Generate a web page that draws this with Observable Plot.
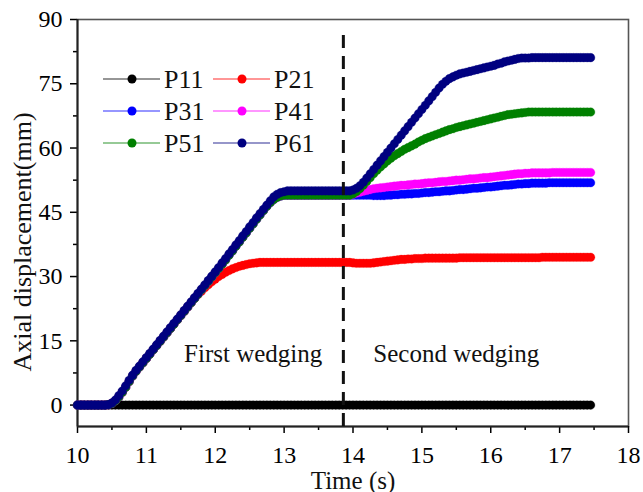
<!DOCTYPE html>
<html>
<head>
<meta charset="utf-8">
<script src="https://cdn.jsdelivr.net/npm/d3@7"></script>
<script src="https://cdn.jsdelivr.net/npm/@observablehq/plot@0.6"></script>
<style>
  html, body { margin: 0; padding: 0; background: #fff; }
  #chart { position: relative; width: 643px; height: 492px; }
  #chart svg { position: absolute; left: 0; top: 0; }
  #chart text { font-family: 'Liberation Serif', 'Times New Roman', serif; }
</style>
</head>
<body>
<div id="chart"></div>
<script>
// ---------- data ----------
const seriesNames = ["P11", "P21", "P31", "P41", "P51", "P61"];
const seriesColors = ["#000000", "#ff0000", "#0000ff", "#ff00ff", "#008000", "#000080"];
const xTicks = [10, 11, 12, 13, 14, 15, 16, 17, 18];
const xMinorTicks = [10.5, 11.5, 12.5, 13.5, 14.5, 15.5, 16.5, 17.5];
const yTicks = [0, 15, 30, 45, 60, 75, 90];
const yMinorTicks = [7.5, 22.5, 37.5, 52.5, 67.5, 82.5];
const wedgeTime = 13.86;
const phaseLabels = ["First wedging", "Second wedging"];

// sampling grid: one sample every 0.05 s from 10.00 s to 17.45 s (150 samples)
const time = d3.range(150).map(i => Math.round((10 + i * 0.05) * 100) / 100);

const P11 = [
0,0,0,0,0,0,0,0,0,0, 0,0,0,0,0,0,0,0,0,0, 0,0,0,0,0,0,0,0,0,0,
0,0,0,0,0,0,0,0,0,0, 0,0,0,0,0,0,0,0,0,0, 0,0,0,0,0,0,0,0,0,0,
0,0,0,0,0,0,0,0,0,0, 0,0,0,0,0,0,0,0,0,0, 0,0,0,0,0,0,0,0,0,0,
0,0,0,0,0,0,0,0,0,0, 0,0,0,0,0,0,0,0,0,0, 0,0,0,0,0,0,0,0,0,0,
0,0,0,0,0,0,0,0,0,0, 0,0,0,0,0,0,0,0,0,0, 0,0,0,0,0,0,0,0,0,0];

const P21 = [
0,0,0,0,0,0,0,0,0,0.1,
0.4,1.0,1.9,3.0,4.2,5.5,6.8,7.9,8.9,9.9,
10.9,11.9,12.9,13.9,14.9,15.9,16.9,17.9,18.9,19.9,
20.9,21.9,22.9,23.9,24.9,25.8,26.6,27.4,28.1,28.8,
29.4,30.0,30.5,31.0,31.4,31.8,32.1,32.4,32.6,32.8,
33.0,33.1,33.2,33.3,33.3,33.3,33.3,33.3,33.3,33.3,
33.3,33.3,33.3,33.3,33.3,33.3,33.3,33.3,33.3,33.3,
33.3,33.3,33.3,33.3,33.3,33.3,33.3,33.3,33.3,33.3,
33.2,33.1,33.1,33.1,33.1,33.1,33.2,33.3,33.4,33.5,
33.6,33.7,33.8,33.9,34.0,34.0,34.1,34.1,34.2,34.2,
34.2,34.3,34.3,34.3,34.3,34.3,34.3,34.3,34.3,34.3,
34.3,34.4,34.4,34.4,34.4,34.4,34.4,34.4,34.4,34.4,
34.4,34.4,34.4,34.4,34.4,34.4,34.4,34.4,34.4,34.4,
34.4,34.4,34.4,34.4,34.4,34.5,34.5,34.5,34.5,34.5,
34.5,34.5,34.5,34.5,34.5,34.5,34.5,34.5,34.5,34.5];

// first stage (10.00 s – 13.95 s), common to P31, P41 and P51
const firstStage = [
0,0,0,0,0,0,0,0,0,0.1,
0.4,1.0,1.9,3.0,4.2,5.5,6.8,7.9,8.9,9.9,
10.9,11.9,12.9,13.9,14.9,15.9,16.9,17.9,18.9,19.9,
20.9,21.9,22.9,23.9,24.9,25.9,26.9,27.9,28.9,29.9,
30.9,31.9,32.9,33.9,35.0,36.0,37.1,38.1,39.2,40.2,
41.3,42.3,43.4,44.4,45.4,46.4,47.3,48.0,48.5,48.8,
49,49,49,49,49,49,49,49,49,49,
49,49,49,49,49,49,49,49,49,49];

const P31 = [...firstStage,
49.0,49.0,49.0,49.0,49.0,49.0,48.9,48.9,48.9,48.9,
49.0,49.0,49.1,49.1,49.2,49.2,49.3,49.3,49.4,49.4,
49.5,49.6,49.6,49.7,49.8,49.8,49.9,50.0,50.0,50.1,
50.2,50.3,50.3,50.4,50.5,50.6,50.6,50.7,50.8,50.9,
50.9,51.0,51.1,51.2,51.3,51.3,51.4,51.5,51.6,51.6,
51.7,51.7,51.8,51.8,51.8,51.8,51.8,51.9,51.9,51.9,
51.9,51.9,51.9,51.9,51.9,51.9,51.9,51.9,51.9,51.9];

const P41 = [...firstStage,
49.2,49.5,49.7,49.9,50.1,50.3,50.5,50.6,50.7,50.8,
50.9,51.0,51.1,51.2,51.3,51.3,51.4,51.5,51.6,51.6,
51.7,51.8,51.9,51.9,52.0,52.1,52.2,52.2,52.3,52.4,
52.5,52.5,52.6,52.7,52.8,52.8,52.9,53.0,53.1,53.1,
53.2,53.3,53.4,53.5,53.6,53.7,53.8,53.9,54.0,54.0,
54.1,54.1,54.2,54.2,54.2,54.2,54.2,54.2,54.3,54.3,
54.3,54.3,54.3,54.3,54.3,54.3,54.3,54.3,54.3,54.3];

const P51 = [...firstStage,
49.3,49.8,50.5,51.3,52.2,53.1,54.0,54.8,55.6,56.3,
57.0,57.6,58.2,58.7,59.2,59.7,60.1,60.5,60.9,61.4,
61.8,62.2,62.5,62.8,63.1,63.4,63.7,64.0,64.3,64.5,
64.8,65.0,65.2,65.4,65.6,65.8,66.0,66.2,66.4,66.6,
66.8,67.0,67.2,67.4,67.6,67.8,67.9,68.0,68.1,68.2,
68.3,68.4,68.4,68.4,68.4,68.4,68.4,68.4,68.4,68.4,
68.4,68.4,68.4,68.4,68.4,68.4,68.4,68.4,68.4,68.4];

const P61 = [
0,0,0,0,0,0,0,0,0,0.1,
0.5,1.2,2.2,3.3,4.5,5.8,7.0,8.1,9.1,10.1,
11.1,12.1,13.1,14.1,15.1,16.1,17.1,18.1,19.1,20.1,
21.1,22.1,23.1,24.1,25.1,26.1,27.1,28.1,29.1,30.1,
31.1,32.1,33.2,34.2,35.3,36.3,37.4,38.4,39.5,40.5,
41.6,42.6,43.7,44.7,45.7,46.7,47.7,48.6,49.2,49.6,
49.8,50.0,50.0,50.0,50.0,50.0,50.0,50.0,50.0,50.0,
50.0,50.0,50.0,50.0,50.0,50.0,50.0,50.0,50.0,50.0,
50.2,50.6,51.2,52.0,53.0,54.0,55.0,56.0,57.0,58.0,
59.0,60.0,61.0,62.0,63.0,64.0,65.0,66.0,67.0,68.0,
69.0,70.0,71.0,72.0,73.0,74.0,74.9,75.6,76.2,76.6,
77.0,77.3,77.5,77.7,77.9,78.1,78.3,78.5,78.7,78.9,
79.1,79.3,79.6,79.8,80.1,80.3,80.5,80.7,80.9,81.0,
81.0,81.0,81.1,81.1,81.1,81.1,81.1,81.1,81.1,81.1,
81.1,81.1,81.1,81.1,81.1,81.1,81.1,81.1,81.1,81.1];

const seriesValues = [P11, P21, P31, P41, P51, P61];

// ---------- build table ----------
const rows = [];
seriesValues.forEach((vals, k) => {
  if (vals.length !== time.length) console.error(seriesNames[k] + " length " + vals.length);
  vals.forEach((v, i) => rows.push({ t: time[i], v, s: seriesNames[k] }));
});

const font = "'Liberation Serif', 'Times New Roman', serif";

const plot = Plot.plot({
  width: 643,
  height: 492,
  marginLeft: 77,
  marginRight: 15,
  marginTop: 19,
  marginBottom: 66,
  style: { fontFamily: font, fontSize: "24px", color: "#000", background: "transparent", overflow: "visible" },
  x: { domain: [10, 18] },
  y: { domain: [-5, 90] },
  color: { domain: seriesNames, range: seriesColors },
  marks: [
    Plot.frame({ stroke: "#555", strokeWidth: 1.6 }),
    Plot.axisX({ ticks: xMinorTicks, tickSize: 4, text: null, label: null, strokeWidth: 1.5 }),
    Plot.axisX({ ticks: xTicks, tickSize: 7, tickPadding: 12, tickFormat: d => String(d), label: null, strokeWidth: 1.5, fontSize: 24, fontFamily: font }),
    Plot.axisY({ ticks: yMinorTicks, tickSize: 4, text: null, label: null, strokeWidth: 1.5 }),
    Plot.axisY({ ticks: yTicks, tickSize: 7, tickPadding: 8, tickFormat: d => String(d), label: null, strokeWidth: 1.5, fontSize: 24, fontFamily: font }),
    Plot.ruleX([10], { stroke: "#222", strokeWidth: 2 }),
    Plot.ruleY([-5], { stroke: "#222", strokeWidth: 2 }),
    Plot.line(rows, { x: "t", y: "v", z: "s", stroke: "s", strokeWidth: 1 }),
    Plot.dot(rows, { x: "t", y: "v", fill: "s", r: 4.3, stroke: "s", strokeWidth: 0.5, strokeOpacity: 0.6 }),
    Plot.ruleX([wedgeTime], { y1: -5, y2: 86.7, stroke: "#111", strokeWidth: 3, strokeDasharray: "13,8" }),
    Plot.text([phaseLabels[0]], { x: 12.55, y: 12, text: d => d, fontSize: 25, fontFamily: font, fill: "#111" }),
    Plot.text([phaseLabels[1]], { x: 15.5, y: 12, text: d => d, fontSize: 25, fontFamily: font, fill: "#111" }),
    Plot.text(["Time (s)"], { frameAnchor: "bottom", lineAnchor: "bottom", dy: 62, text: d => d, fontSize: 25, fontFamily: font, fill: "#111" }),
    Plot.text(["Axial displacement(mm)"], { frameAnchor: "left", textAnchor: "middle", rotate: -90, dx: -55, dy: 19, text: d => d, fontSize: 26, fontFamily: font, fill: "#111" })
  ]
});

const chart = document.getElementById("chart");
chart.appendChild(plot);

// ---------- legend (inside the plot, two columns) ----------
const leg = d3.select(chart).append("svg")
  .attr("width", 643).attr("height", 492)
  .style("pointer-events", "none");
seriesNames.forEach((name, i) => {
  const col = i % 2, row = Math.floor(i / 2);
  const x0 = 103 + col * 110, y0 = 79 + row * 32;
  const g = leg.append("g").attr("transform", `translate(${x0},${y0})`);
  g.append("line").attr("x1", 0).attr("x2", 57).attr("y1", 0).attr("y2", 0)
    .attr("stroke", seriesColors[i]).attr("stroke-opacity", 0.55).attr("stroke-width", 1.5);
  g.append("circle").attr("cx", 29).attr("cy", 0).attr("r", 4.5).attr("fill", seriesColors[i]);
  g.append("text").attr("x", 61).attr("y", 8.5).text(name)
    .attr("font-family", font).attr("font-size", 26).attr("fill", "#111");
});
</script>
</body>
</html>
